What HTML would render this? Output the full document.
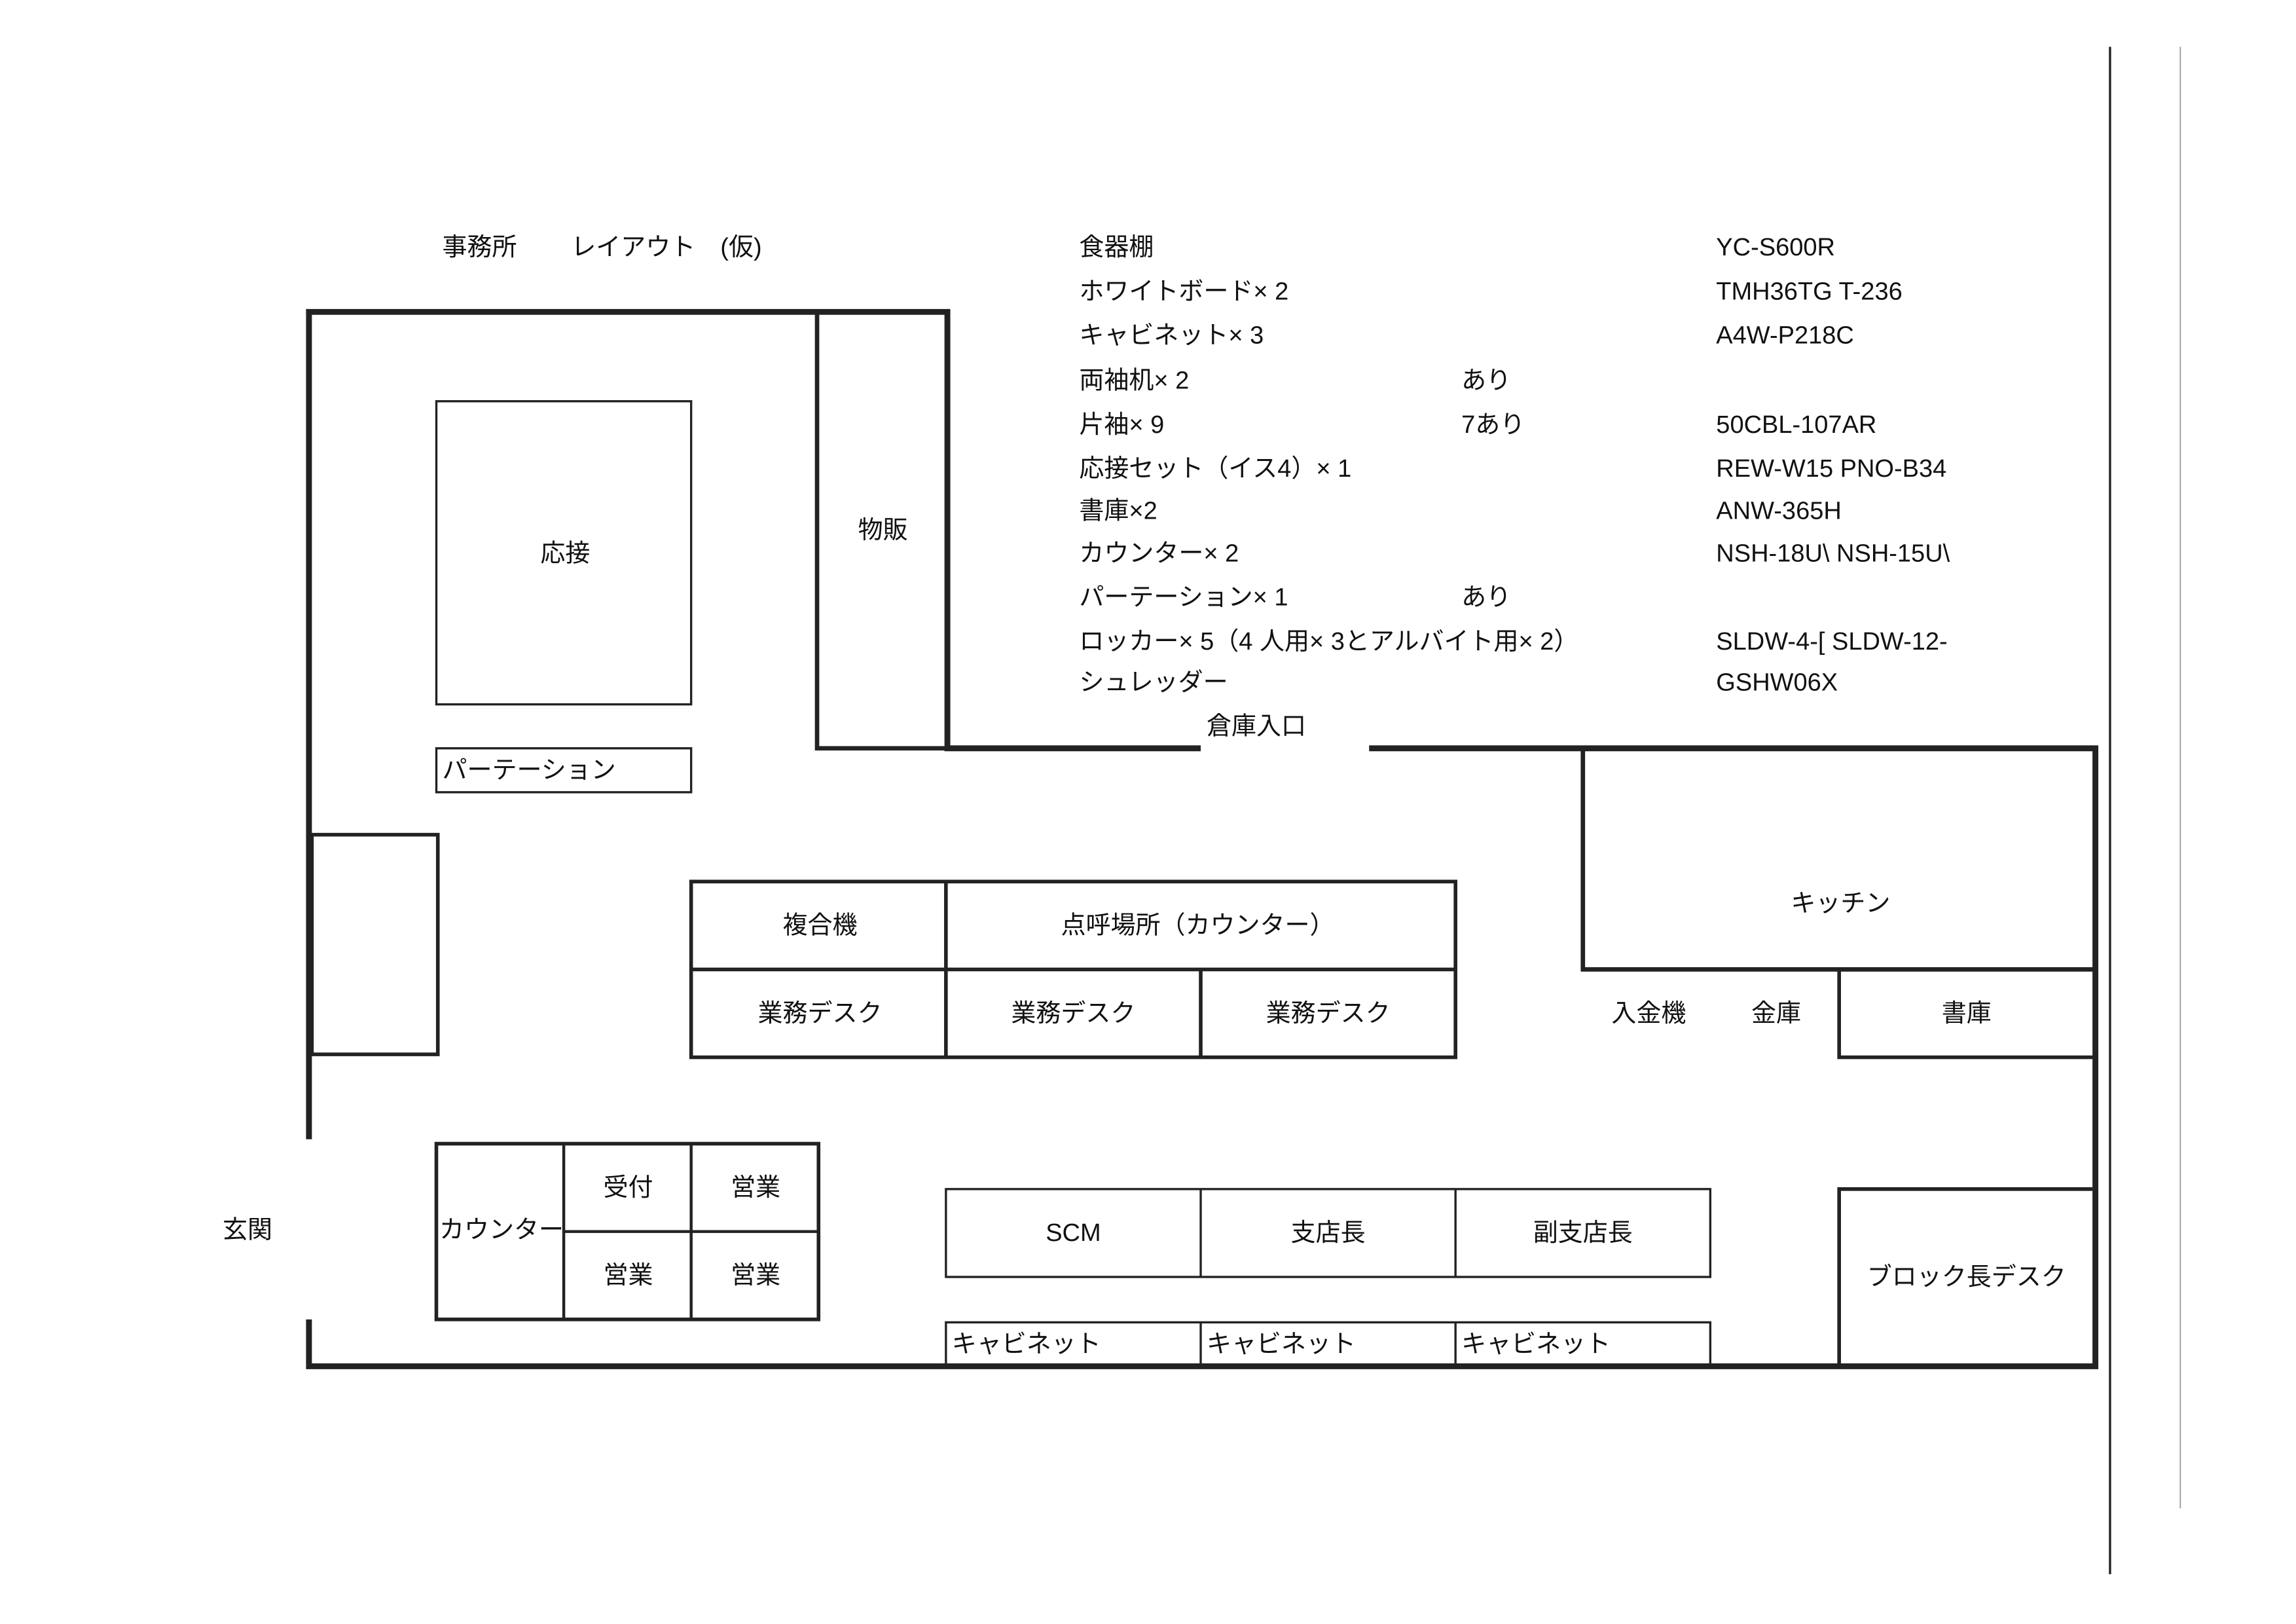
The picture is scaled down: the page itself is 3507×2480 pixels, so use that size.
<!DOCTYPE html>
<html><head><meta charset="utf-8"><style>
html,body{margin:0;padding:0;background:#fff;}
svg{display:block;}
text{font-family:"Liberation Sans","Noto Sans CJK JP",sans-serif;font-size:17px;fill:#111;dominant-baseline:middle;}
.c{text-anchor:middle;}
</style></head><body>
<svg width="3507" height="2480" viewBox="0 0 1568 1109" preserveAspectRatio="none" xmlns="http://www.w3.org/2000/svg">
<rect width="1568" height="1109" fill="#fff"/>
<line x1="1441" y1="32" x2="1441" y2="1075" stroke="#222" stroke-width="1.5"/>
<line x1="1489" y1="32" x2="1489" y2="1030" stroke="#999" stroke-width="0.8"/>
<g stroke="#222" fill="none">
<g stroke-width="3">
<polyline points="211,778 211,213 647,213 647,511 820,511" stroke-width="4"/>
<polyline points="211,901 211,933 1431,933 1431,511 935,511" stroke-width="4"/>
<rect x="558" y="213" width="89" height="298"/>
<polyline points="1081,511 1081,662 1431,662"/>
<rect x="213" y="570" width="86" height="150" stroke-width="2.5"/>
<rect x="1256" y="662" width="175" height="60" stroke-width="2.5"/>
<polyline points="1256,933 1256,812 1429,812" stroke-width="2.5"/>
<rect x="472" y="602" width="522" height="120" stroke-width="2.5"/>
<line x1="472" y1="662" x2="994" y2="662" stroke-width="2.5"/>
<line x1="646" y1="602" x2="646" y2="722" stroke-width="2.5"/>
<line x1="820" y1="662" x2="820" y2="722" stroke-width="2.5"/>
<rect x="298" y="781" width="261" height="120" stroke-width="2.5"/>
<line x1="385" y1="781" x2="385" y2="901" stroke-width="2"/>
<line x1="472" y1="781" x2="472" y2="901" stroke-width="2"/>
<line x1="385" y1="841" x2="559" y2="841" stroke-width="2"/>
</g>
<g stroke-width="1.5">
<rect x="298" y="274" width="174" height="207"/>
<rect x="298" y="511" width="174" height="30"/>
<rect x="646" y="812" width="522" height="60"/>
<line x1="820" y1="812" x2="820" y2="872"/>
<line x1="994" y1="812" x2="994" y2="872"/>
<rect x="646" y="903" width="522" height="30"/>
<line x1="820" y1="903" x2="820" y2="933"/>
<line x1="994" y1="903" x2="994" y2="933"/>
</g>
</g>
<g transform="translate(0,2)">
<text x="302" y="168">事務所</text>
<text x="390" y="168">レイアウト　(仮)</text>
<text x="737" y="168">食器棚</text>
<text x="737" y="198">ホワイトボード× 2</text>
<text x="737" y="228">キャビネット× 3</text>
<text x="737" y="259">両袖机× 2</text>
<text x="737" y="289">片袖× 9</text>
<text x="737" y="319">応接セット（イス4）× 1</text>
<text x="737" y="348">書庫×2</text>
<text x="737" y="377">カウンター× 2</text>
<text x="737" y="407">パーテーション× 1</text>
<text x="737" y="437">ロッカー× 5（4 人用× 3とアルバイト用× 2）</text>
<text x="737" y="465">シュレッダー</text>
<text x="998" y="259">あり</text>
<text x="998" y="289">7あり</text>
<text x="998" y="407">あり</text>
<text x="1172" y="168">YC-S600R</text>
<text x="1172" y="198">TMH36TG T-236</text>
<text x="1172" y="228">A4W-P218C</text>
<text x="1172" y="289">50CBL-107AR</text>
<text x="1172" y="319">REW-W15 PNO-B34</text>
<text x="1172" y="348">ANW-365H</text>
<text x="1172" y="377">NSH-18U\ NSH-15U\</text>
<text x="1172" y="437">SLDW-4-[ SLDW-12-</text>
<text x="1172" y="465">GSHW06X</text>
<text x="858" y="495" class="c">倉庫入口</text>
<text x="386" y="377" class="c">応接</text>
<text x="603" y="361" class="c">物販</text>
<text x="302" y="525">パーテーション</text>
<text x="1257" y="616" class="c">キッチン</text>
<text x="560" y="631" class="c">複合機</text>
<text x="818" y="631" class="c">点呼場所（カウンター）</text>
<text x="560" y="691" class="c">業務デスク</text>
<text x="733" y="691" class="c">業務デスク</text>
<text x="907" y="691" class="c">業務デスク</text>
<text x="1126" y="691" class="c">入金機</text>
<text x="1213" y="691" class="c">金庫</text>
<text x="1343" y="691" class="c">書庫</text>
<text x="169" y="839" class="c">玄関</text>
<text x="300" y="839">カウンター</text>
<text x="429" y="810" class="c">受付</text>
<text x="516" y="810" class="c">営業</text>
<text x="429" y="870" class="c">営業</text>
<text x="516" y="870" class="c">営業</text>
<text x="733" y="841" class="c">SCM</text>
<text x="907" y="841" class="c">支店長</text>
<text x="1081" y="841" class="c">副支店長</text>
<text x="1343" y="871" class="c">ブロック長デスク</text>
<text x="650" y="917">キャビネット</text>
<text x="824" y="917">キャビネット</text>
<text x="998" y="917">キャビネット</text>
</g>
</svg>
</body></html>
